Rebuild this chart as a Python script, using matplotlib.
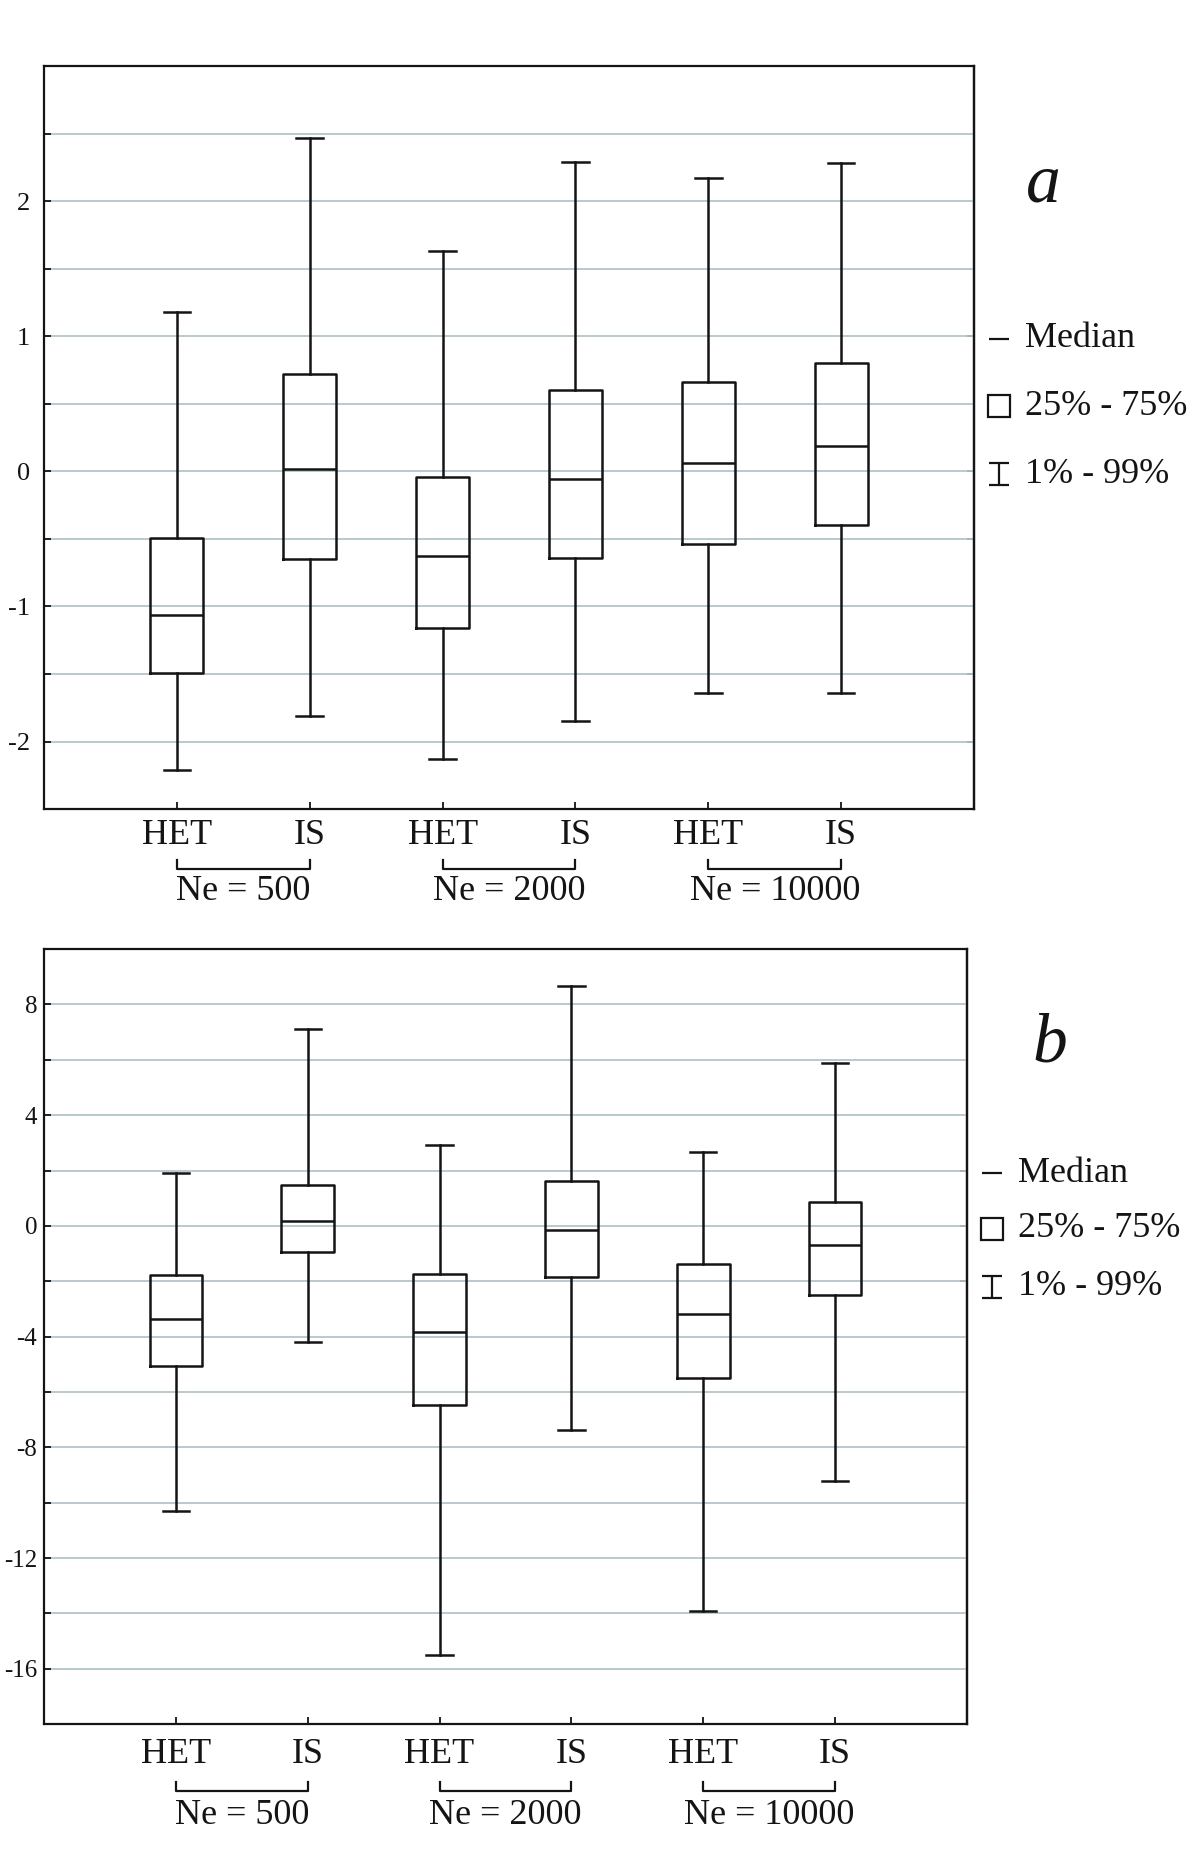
import matplotlib
matplotlib.use('Agg')
import matplotlib.pyplot as plt
from matplotlib.path import Path
from matplotlib.transforms import blended_transform_factory
from matplotlib.ticker import MultipleLocator, NullLocator

plt.rcParams['font.family'] = ['Liberation Serif', 'DejaVu Serif']

# ---------------- data ----------------
groups = ['Ne = 500', 'Ne = 2000', 'Ne = 10000']
methods = ['HET', 'IS', 'HET', 'IS', 'HET', 'IS']

# panel a
a_whislo = [-2.21, -1.81, -2.13, -1.85, -1.64, -1.64]
a_q1 = [-1.49, -0.65, -1.16, -0.64, -0.54, -0.40]
a_med = [-1.06, 0.015, -0.63, -0.054, 0.058, 0.187]
a_q3 = [-0.495, 0.72, -0.044, 0.605, 0.66, 0.80]
a_whishi = [1.18, 2.465, 1.63, 2.29, 2.17, 2.28]
a_yticks = [-2, -1, 0, 1, 2]

# panel b
b_whislo = [-10.3, -4.2, -15.5, -7.36, -13.9, -9.2]
b_q1 = [-5.05, -0.96, -6.46, -1.86, -5.50, -2.48]
b_med = [-3.36, 0.18, -3.85, -0.16, -3.18, -0.69]
b_q3 = [-1.79, 1.49, -1.74, 1.63, -1.39, 0.87]
b_whishi = [1.90, 7.12, 2.93, 8.68, 2.66, 5.89]
b_yticks = [-16, -12, -8, -4, 0, 4, 8]

legend_labels = ['Median', '25% - 75%', '1% - 99%']

# ---------------- style ----------------
LINE = '#141414'
GRID = '#b3c5c9'
positions = list(range(1, len(methods) + 1))

fig = plt.figure(figsize=(12, 18.75), dpi=100)
ax_a = fig.add_axes([0.0367, 0.5685, 0.775, 0.3963])
ax_b = fig.add_axes([0.0367, 0.0805, 0.769, 0.4133])

ibeam = Path([(-0.9, 1), (0.9, 1), (0, 1), (0, -1), (-0.9, -1), (0.9, -1)],
             [Path.MOVETO, Path.LINETO, Path.MOVETO, Path.LINETO, Path.MOVETO, Path.LINETO])


def draw_panel(ax, whislo, q1, med, q3, whishi, ylim, yticks, minor_step,
               right_ticks, xpad, ypad, ysize, bracket_y, label_y, leg_y, letter, letter_xy):
    stats = [dict(whislo=lo, q1=a, med=m, q3=b, whishi=hi, fliers=[])
             for lo, a, m, b, hi in zip(whislo, q1, med, q3, whishi)]
    props = dict(color=LINE, linewidth=1.8)
    ax.bxp(stats, positions=positions, widths=0.4, capwidths=0.2, showfliers=False,
           boxprops=props, whiskerprops=props, capprops=props, medianprops=props,
           manage_ticks=False, zorder=3)
    ax.set_xlim(0, 7)
    ax.set_ylim(*ylim)
    ax.set_yticks(yticks)
    ax.set_yticklabels([f'{t:g}' for t in yticks])
    ax.yaxis.set_minor_locator(MultipleLocator(minor_step))
    ax.set_xticks(positions)
    ax.set_xticklabels(methods)
    ax.yaxis.grid(True, which='both', color=GRID, linewidth=1.3)
    ax.xaxis.grid(False)
    ax.set_axisbelow(True)
    ax.tick_params(axis='y', which='both', direction='in', length=5, width=1.3,
                   left=True, right=False, labelsize=ysize, pad=ypad, colors=LINE)
    ax.tick_params(axis='x', which='both', direction='in', length=5, width=1.3,
                   bottom=True, top=False, labelsize=26, pad=xpad, colors=LINE)
    for s in ax.spines.values():
        s.set_linewidth(1.6)
        s.set_color(LINE)

    sec = ax.secondary_yaxis('right')
    sec.set_yticks(right_ticks)
    sec.yaxis.set_minor_locator(NullLocator())
    sec.tick_params(direction='in', length=5, width=1.3, labelright=False, colors=LINE)
    sec.spines['right'].set_linewidth(1.6)

    trans = blended_transform_factory(ax.transData, ax.transAxes)
    # group brackets
    for g, name in enumerate(groups):
        x0, x1 = positions[2 * g], positions[2 * g + 1]
        ax.plot([x0, x0, x1, x1], [bracket_y[0], bracket_y[1], bracket_y[1], bracket_y[0]],
                color=LINE, lw=1.6, transform=trans, clip_on=False)
        ax.text((x0 + x1) / 2, label_y, name, transform=trans, ha='center', va='center',
                fontsize=26, color=LINE)

    # legend
    ltrans = blended_transform_factory(ax.transAxes, ax.transData)
    mx, tx = 1.027, 1.055
    ax.plot([mx], [leg_y[0]], marker='_', markersize=15, mew=1.6, color=LINE,
            transform=ltrans, clip_on=False)
    ax.plot([mx], [leg_y[1]], marker='s', markersize=16, mew=1.6, mfc='white', mec=LINE,
            transform=ltrans, clip_on=False)
    ax.plot([mx], [leg_y[2]], marker=ibeam, markersize=16, mew=1.6, color=LINE,
            transform=ltrans, clip_on=False)
    for lab, yy in zip(legend_labels, leg_y):
        ax.text(tx, yy, lab, transform=ltrans, ha='left', va='center', fontsize=26,
                color=LINE, clip_on=False)

    ax.text(letter_xy[0], letter_xy[1], letter, transform=ax.transAxes, ha='center',
            va='center', fontsize=50, style='italic', color=LINE)


draw_panel(ax_a, a_whislo, a_q1, a_med, a_q3, a_whishi, (-2.5, 3.0), a_yticks, 0.5,
           [-2, -1.5, -0.5, 0, 1], xpad=7, ypad=10, ysize=19,
           bracket_y=(-0.0686, -0.0808), label_y=-0.111,
           leg_y=(0.98, 0.48, -0.02), letter='a', letter_xy=(1.075, 0.84))

draw_panel(ax_b, b_whislo, b_q1, b_med, b_q3, b_whishi, (-18, 10), b_yticks, 2,
           [-2, 0, 2], xpad=10, ypad=5, ysize=18,
           bracket_y=(-0.0748, -0.0865), label_y=-0.1174,
           leg_y=(1.9, -0.1, -2.2), letter='b', letter_xy=(1.09, 0.877))

fig.savefig('out.png', dpi=100, facecolor='white')
